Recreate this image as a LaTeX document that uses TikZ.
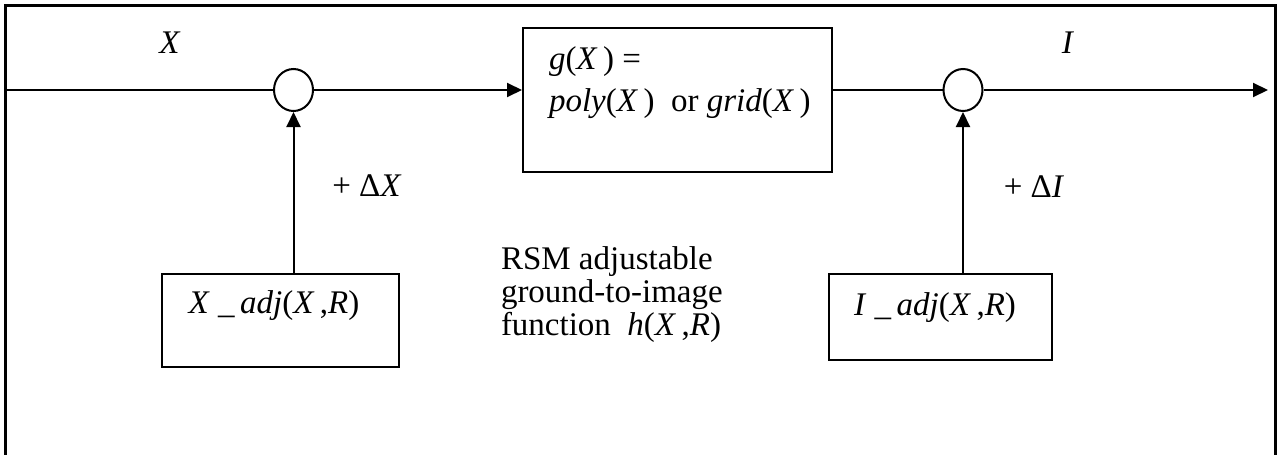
\documentclass[tikz,border=0pt]{standalone}
\usepackage{fontspec}
\setmainfont{Liberation Serif}
\usetikzlibrary{arrows.meta,positioning,shapes.geometric}

\tikzset{
  blk/.style={draw,line width=2pt,rectangle,inner sep=0pt},
  sumnode/.style={draw,line width=2pt,ellipse,minimum width=39pt,minimum height=42pt,inner sep=0pt},
  lbl/.style={inner sep=0pt}
}

\begin{document}
\begin{tikzpicture}[x=1pt,y=-1pt,>={Triangle[length=15pt,width=14pt]},line width=2pt,
  font=\fontsize{33}{33}\selectfont]

  \useasboundingbox (0,0) rectangle (1280,455);
  % outer frame, open at the bottom
  \draw[line width=3pt] (5,455) -- (5,5) -- (1275,5) -- (1275,455);

  \node[sumnode] (sumX) at (293.5,90) {};
  \node[sumnode] (sumI) at (963,90) {};
  \node[blk,minimum width=309pt,minimum height=144pt] (gbox) at (677.5,100) {};
  \node[blk,minimum width=237pt,minimum height=93pt] (xadj) at (280.5,320.5) {};
  \node[blk,minimum width=223pt,minimum height=86pt] (iadj) at (940.5,317) {};

  \coordinate (in) at (5,90);
  \coordinate (out) at (1268,90);

  % texts
  \node[lbl] (xlbl) at (170,43) {\textit{X}};
  \node[lbl] (ilbl) at (1068,43) {\textit{I}};
  \node[lbl,anchor=west] (gline1) at (548,62) {\textit{g}(\textit{X}\,) =};
  \node[lbl,anchor=west] (gline2) at (548,104) {\textit{poly}(\textit{X}\,)\ \ or \textit{grid}(\textit{X}\,)};
  \node[lbl] (dx) at (367,186) {+ Δ\textit{X}};
  \node[lbl] (di) at (1034,187) {+ Δ\textit{I}};
  \node[lbl] (xadjtxt) at (274,306) {\textit{X} \_\,\textit{adj}(\textit{X}\,,\textit{R})};
  \node[lbl] (iadjtxt) at (935,308) {\textit{I} \_\,\textit{adj}(\textit{X}\,,\textit{R})};
  \node[lbl,anchor=west,align=left] (rsm) at (500,295)
    {RSM adjustable\\ground-to-image\\function \ \textit{h}(\textit{X}\,,\textit{R})};

  % connectors
  \draw (in) -- (sumX);
  \draw[->] (sumX) -- (sumX -| gbox.west);
  \draw (sumI -| gbox.east) -- (sumI);
  \draw[->] (sumI) -- (out);
  \draw[->] (sumX |- xadj.north) -- (sumX);
  \draw[->] (sumI |- iadj.north) -- (sumI);

\end{tikzpicture}
\end{document}
